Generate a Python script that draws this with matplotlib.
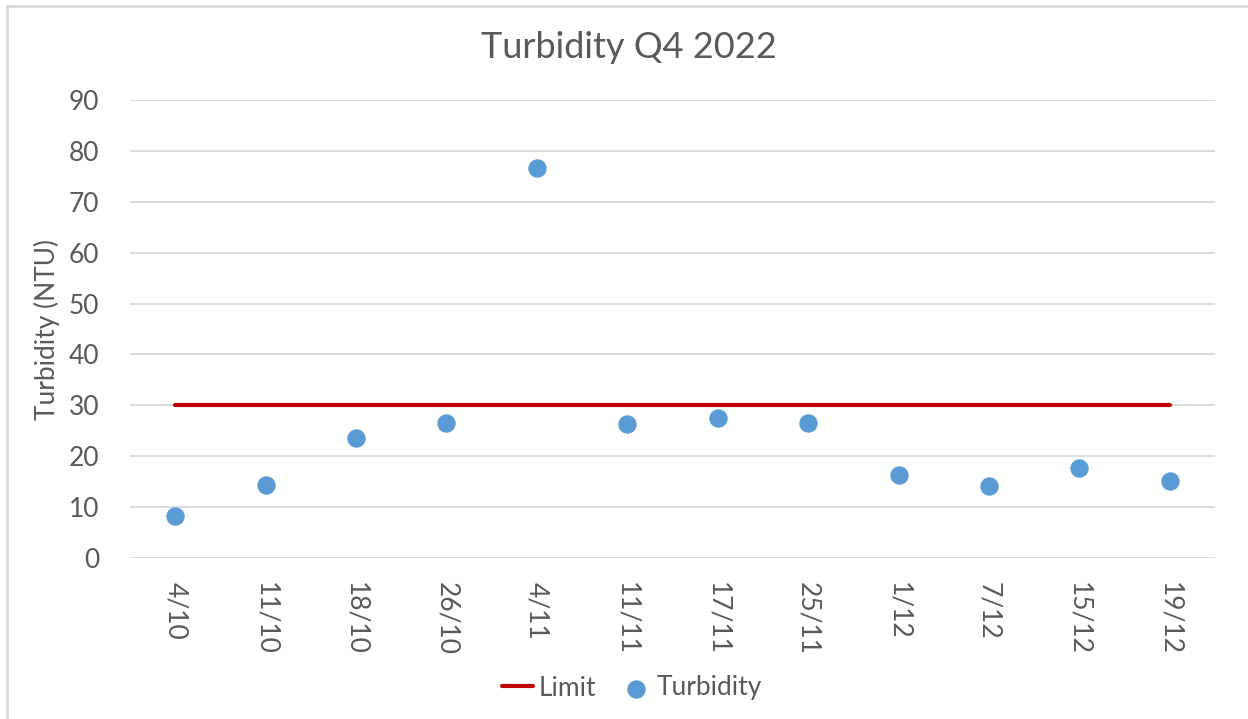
import matplotlib.pyplot as plt
from matplotlib.patches import Rectangle

# data
dates = ['4/10', '11/10', '18/10', '26/10', '4/11', '11/11',
         '17/11', '25/11', '1/12', '7/12', '15/12', '19/12']
turbidity = [8.3, 14.4, 23.6, 26.5, 76.6, 26.3, 27.5, 26.5, 16.3, 14.2, 17.7, 15.1]
limit = [30] * len(dates)

plt.rcParams['font.family'] = ['Lato', 'DejaVu Sans']
GREY = '#595959'

fig = plt.figure(figsize=(12.48, 7.19), dpi=100)
ax = fig.add_axes([130/1248, 1 - 558/719, 1085/1248, 458/719])

x = range(len(dates))
ax.plot(x, limit, color='#C00000', lw=3, solid_capstyle='round', label='Limit', zorder=3)
ax.scatter(x, turbidity, s=150, color='#5B9BD5', label='Turbidity', zorder=4)

ax.set_xlim(-0.5, len(dates) - 0.5)
ax.set_ylim(0, 90)
ax.set_yticks(range(0, 91, 10))
ax.set_xticks(list(x))
ax.set_xticklabels(dates, rotation=-90, fontsize=19, color=GREY)
ax.tick_params(axis='y', labelsize=19, labelcolor=GREY, length=0, pad=22)
ax.tick_params(axis='x', length=0, pad=17)
ax.grid(axis='y', color='#d9d9d9', lw=1.3)
ax.set_axisbelow(True)
for s in ax.spines.values():
    s.set_visible(False)
ax.set_ylabel('Turbidity (NTU)', fontsize=19, color=GREY, labelpad=6)

fig.text(629/1248, 1 - 47/719, 'Turbidity Q4 2022', fontsize=26, color=GREY,
         ha='center', va='center')

leg = fig.legend(loc='center', bbox_to_anchor=(632/1248, 1 - 688/719), ncol=2,
                 frameon=False, fontsize=19, handlelength=1.2, handletextpad=0.2,
                 columnspacing=0.9)
for t in leg.get_texts():
    t.set_color(GREY)

# chart frame, cut off at the right and bottom
fig.patches.append(Rectangle((7/1248, -0.1), 1.2, 1 - 6/719 + 0.1, transform=fig.transFigure,
                             fill=False, edgecolor='#d9d9d9', lw=2))

fig.savefig('out.png', dpi=100)
